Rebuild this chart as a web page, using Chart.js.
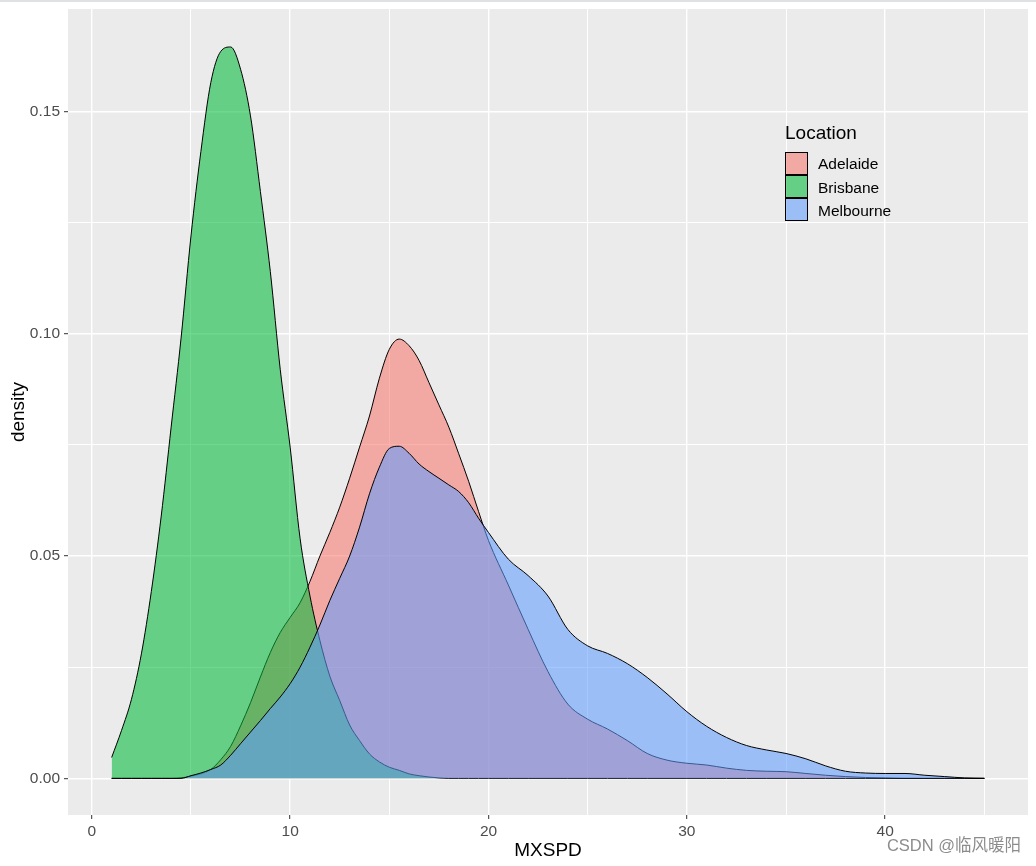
<!DOCTYPE html>
<html lang="en">
<head>
<meta charset="UTF-8">
<title>MXSPD density by Location</title>
<script src="https://cdn.jsdelivr.net/npm/chart.js"></script>
<style>
  body { margin: 0; background: #fff; font-family: "Liberation Sans", Arial, sans-serif; }
  #wrap { position: relative; width: 1036px; height: 866px; }
  #topline { position: absolute; left: 0; top: 0; width: 100%; height: 2px; background: #dfe2e5; }
  #legend { position: absolute; left: 785px; top: 0; }
  .leg-title { position: absolute; left: 0; top: 123px; font-size: 19px; line-height: 1; white-space: nowrap; color: #000; }
  .leg-key { position: absolute; left: 0; width: 23px; height: 23px; box-sizing: border-box; border: 1px solid #000; }
  .leg-label { position: absolute; left: 33px; font-size: 15.5px; line-height: 1; white-space: nowrap; color: #000; }
  #mark { position: absolute; right: 15px; top: 837px; font-size: 16.5px; line-height: 1; color: #8c8c8c;
          font-family: "Liberation Sans", "Noto Sans CJK SC", sans-serif; white-space: nowrap; }
</style>
</head>
<body>
<div id="wrap">
  <canvas id="grafico" width="1036" height="866"></canvas>
  <div id="topline"></div>
  <div id="legend"><div class="leg-title">Location</div></div>
  <div id="mark">CSDN @临风暖阳</div>
</div>

<script>
  // x grid of the density estimates (MXSPD)
  const mxspd = [1, 1.5, 2, 2.5, 3, 3.5, 4, 4.5, 5, 5.5, 6, 6.5, 7, 7.5, 8, 8.5, 9, 9.5, 10, 10.5,
    11, 11.5, 12, 12.5, 13, 13.5, 14, 14.5, 15, 15.5, 16, 16.5, 17, 17.5, 18, 18.5, 19, 19.5, 20,
    21, 22, 23, 24, 25, 26, 27, 28, 29, 30, 31, 32, 33, 34, 35, 36, 37, 38, 39, 40, 41, 42, 43, 44, 45];

  const adelaide = [0, 0, 0, 0, 0, 0, 0, 0.0001, 0.0005, 0.001, 0.002, 0.0042, 0.0072, 0.0118, 0.017, 0.0228,
    0.0283, 0.0328, 0.0362, 0.0395, 0.0443, 0.050, 0.0553, 0.061, 0.0675, 0.0745, 0.0815, 0.090, 0.0965,
    0.0988, 0.0973, 0.094, 0.089, 0.084, 0.079, 0.073, 0.0668, 0.060, 0.0535,
    0.0435, 0.0335, 0.024, 0.0167, 0.0133, 0.0111, 0.0085, 0.0056, 0.0041, 0.0034, 0.003, 0.0023, 0.0018,
    0.0016, 0.0015, 0.0011, 0.0007, 0.0004, 0.0002, 0.0001, 0, 0, 0, 0, 0];

  const brisbane = [0.0047, 0.0108, 0.0178, 0.028, 0.042, 0.059, 0.079, 0.099, 0.122, 0.141, 0.1565, 0.1635,
    0.1645, 0.1595, 0.149, 0.132, 0.114, 0.092, 0.0745, 0.054, 0.041, 0.031, 0.023, 0.0175, 0.012, 0.0085,
    0.0055, 0.0037, 0.0025, 0.0018, 0.001, 0.0006, 0.0003, 0.0001, 0, 0, 0, 0, 0,
    0, 0, 0, 0, 0, 0, 0, 0, 0, 0, 0, 0, 0, 0, 0, 0, 0, 0, 0, 0, 0, 0, 0, 0, 0];

  const melbourne = [0, 0, 0, 0, 0, 0, 0, 0, 0.0006, 0.0012, 0.002, 0.003, 0.0052, 0.0078, 0.0104, 0.013,
    0.0157, 0.0183, 0.0213, 0.025, 0.0295, 0.0345, 0.040, 0.045, 0.050, 0.0565, 0.064, 0.070, 0.0742,
    0.0747, 0.0731, 0.0707, 0.069, 0.0675, 0.066, 0.0645, 0.062, 0.0585, 0.0553,
    0.0493, 0.0456, 0.041, 0.0335, 0.0298, 0.0281, 0.0258, 0.0227, 0.019, 0.015, 0.0117, 0.0092, 0.0074,
    0.0064, 0.0056, 0.0044, 0.0028, 0.0016, 0.0012, 0.0011, 0.0011, 0.0007, 0.0004, 0.0001, 0];

  const locations = ['Adelaide', 'Brisbane', 'Melbourne'];
  const baseColors = ['248,118,109', '0,186,56', '97,156,255'];
  const alpha = 0.57;

  const xMajor = [0, 10, 20, 30, 40];
  const xMinor = [5, 15, 25, 35, 45];
  const yMajor = [0, 0.05, 0.10, 0.15];
  const yMinor = [0.025, 0.075, 0.125];

  const series = [adelaide, brisbane, melbourne];

  function tickList(major, minor) {
    return major.map(v => ({ value: v }))
      .concat(minor.map(v => ({ value: v, minor: true })))
      .sort((a, b) => a.value - b.value);
  }

  const isMinor = c => c.tick && c.tick.minor;

  const panelBg = {
    id: 'panelBg',
    beforeDraw(chart) {
      const { ctx, chartArea: a } = chart;
      ctx.save();
      ctx.fillStyle = '#EBEBEB';
      ctx.fillRect(a.left, a.top, a.right - a.left, a.bottom - a.top);
      ctx.restore();
    }
  };

  const datasets = locations.map((name, i) => ({
    label: name,
    data: mxspd.map((x, j) => ({ x: x, y: series[i][j] })),
    backgroundColor: 'rgba(' + baseColors[i] + ',' + alpha + ')',
    borderColor: '#000',
    borderWidth: 1,
    fill: 'origin',
    pointRadius: 0,
    cubicInterpolationMode: 'monotone',
    order: locations.length - i // first group drawn first, last on top
  }));

  new Chart(document.getElementById('grafico'), {
    type: 'line',
    data: { datasets },
    plugins: [panelBg],
    options: {
      responsive: false,
      animation: false,
      layout: { padding: { left: 0, right: 8, top: 9, bottom: 0 } },
      plugins: { legend: { display: false }, tooltip: { enabled: false } },
      scales: {
        x: {
          type: 'linear',
          min: -1.2,
          max: 47.2,
          afterBuildTicks: s => { s.ticks = tickList(xMajor, xMinor); },
          afterFit: s => { s.height = 51; s.paddingLeft = 0; s.paddingRight = 0; },
          ticks: {
            autoSkip: false, maxRotation: 0, padding: 3, color: '#4D4D4D',
            font: { family: 'Liberation Sans', size: 15.5 },
            callback: (v, i, t) => t[i].minor ? '' : String(v)
          },
          grid: {
            color: '#FFFFFF',
            lineWidth: c => isMinor(c) ? 1 : 1.4,
            tickLength: 4,
            tickWidth: 1,
            tickColor: c => isMinor(c) ? 'rgba(0,0,0,0)' : '#333333'
          },
          border: { display: false },
          title: {
            display: true, text: 'MXSPD', color: '#000',
            font: { family: 'Liberation Sans', size: 19 },
            padding: { top: 0, bottom: 4 }
          }
        },
        y: {
          min: -0.00824,
          max: 0.17304,
          afterBuildTicks: s => { s.ticks = tickList(yMajor, yMinor); },
          afterFit: s => { s.width = 68; s.paddingTop = 0; s.paddingBottom = 0; },
          ticks: {
            autoSkip: false, padding: 4, color: '#4D4D4D',
            font: { family: 'Liberation Sans', size: 15.5 },
            callback: (v, i, t) => t[i].minor ? '' : v.toFixed(2)
          },
          grid: {
            color: '#FFFFFF',
            lineWidth: c => isMinor(c) ? 1 : 1.4,
            tickLength: 4,
            tickWidth: 1,
            tickColor: c => isMinor(c) ? 'rgba(0,0,0,0)' : '#333333'
          },
          border: { display: false },
          title: {
            display: true, text: 'density', color: '#000',
            font: { family: 'Liberation Sans', size: 19 },
            padding: { top: 7, bottom: 0 }
          }
        }
      }
    }
  });

  // legend drawn as html over the panel
  const legend = document.getElementById('legend');
  locations.forEach((name, i) => {
    const key = document.createElement('div');
    key.className = 'leg-key';
    key.style.top = (151.5 + i * 23) + 'px';
    key.style.background = 'rgba(' + baseColors[i] + ',' + alpha + ')';
    legend.appendChild(key);
    const lab = document.createElement('div');
    lab.className = 'leg-label';
    lab.style.top = (156.3 + i * 23.3) + 'px';
    lab.textContent = name;
    legend.appendChild(lab);
  });
</script>
</body>
</html>
